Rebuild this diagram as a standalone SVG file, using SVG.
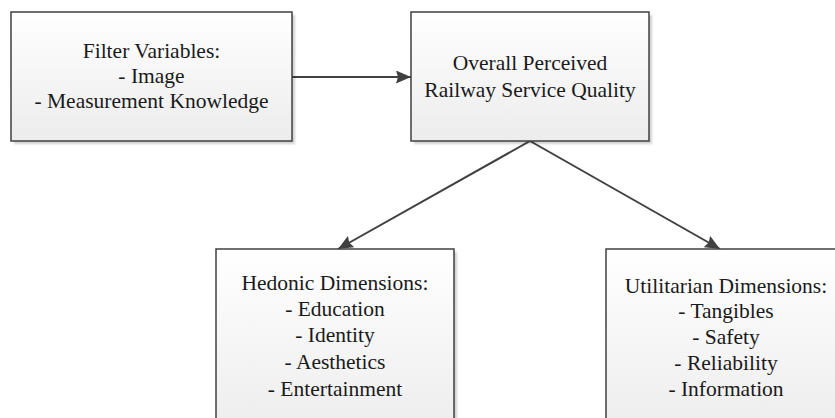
<svg xmlns="http://www.w3.org/2000/svg" width="835" height="418" viewBox="0 0 835 418">
<defs>
<linearGradient id="g" x1="0" y1="0" x2="0" y2="1">
<stop offset="0" stop-color="#ffffff"/>
<stop offset="1" stop-color="#ececec"/>
</linearGradient>
<marker id="ah" viewBox="0 0 15 13" refX="15" refY="6.5" markerWidth="15" markerHeight="13" markerUnits="userSpaceOnUse" orient="auto">
<path d="M0,0 L15,6.5 L0,13 L2,6.5 Z" fill="#404040"/>
</marker>
<filter id="sh" x="-5%" y="-5%" width="115%" height="115%">
<feGaussianBlur stdDeviation="1.2"/>
</filter>
</defs>
<style>
.box{fill:url(#g);stroke:#404040;stroke-width:1.5}
.shadow{fill:#000;opacity:0.18;filter:url(#sh)}
.t{font-family:"Liberation Serif","Times New Roman",serif;font-size:21.5px;fill:#1a1a1a;text-anchor:middle}
.c{stroke:#404040;stroke-width:2;fill:none;marker-end:url(#ah)}
</style>
<g id="connectors">
<line class="c" x1="292" y1="77" x2="411" y2="77"/>
<line class="c" x1="530" y1="141" x2="338" y2="249"/>
<line class="c" x1="530" y1="141" x2="720" y2="249"/>
</g>
<g id="filter">
<rect class="shadow" x="14" y="15" width="281" height="129"/>
<rect class="box" x="11" y="12" width="281" height="129"/>
<text class="t" x="151.5" y="58">Filter Variables:</text>
<text class="t" x="151.5" y="83">- Image</text>
<text class="t" x="151.5" y="108">- Measurement Knowledge</text>
</g>
<g id="overall">
<rect class="shadow" x="414" y="15" width="238" height="129"/>
<rect class="box" x="411" y="12" width="238" height="129"/>
<text class="t" x="530" y="70">Overall Perceived</text>
<text class="t" x="530" y="96.5">Railway Service Quality</text>
</g>
<g id="hedonic">
<rect class="shadow" x="219" y="252" width="238" height="190"/>
<rect class="box" x="216" y="249" width="238" height="190"/>
<text class="t" x="335" y="290">Hedonic Dimensions:</text>
<text class="t" x="335" y="316">- Education</text>
<text class="t" x="335" y="342">- Identity</text>
<text class="t" x="335" y="369">- Aesthetics</text>
<text class="t" x="335" y="396">- Entertainment</text>
</g>
<g id="utilitarian">
<rect class="shadow" x="609" y="252" width="238" height="190"/>
<rect class="box" x="606" y="249" width="238" height="190"/>
<text class="t" x="726" y="293">Utilitarian Dimensions:</text>
<text class="t" x="726" y="318">- Tangibles</text>
<text class="t" x="726" y="344">- Safety</text>
<text class="t" x="726" y="370">- Reliability</text>
<text class="t" x="726" y="396">- Information</text>
</g>
</svg>
